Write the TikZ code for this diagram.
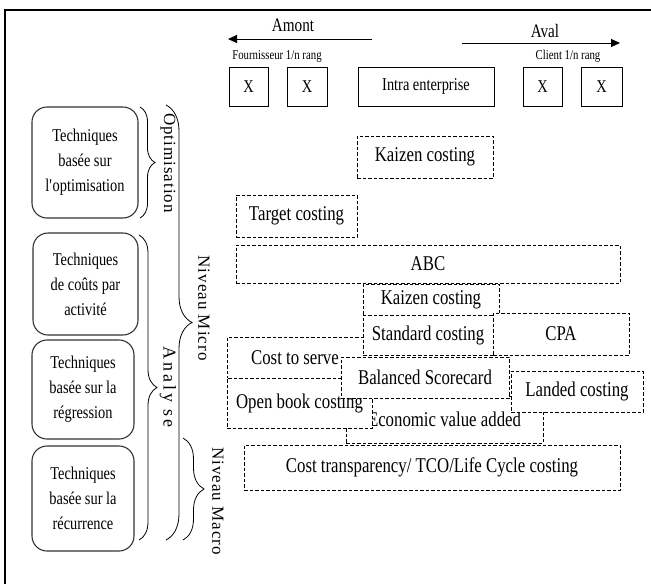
\documentclass[tikz,border=0pt]{standalone}
\usepackage{fontspec}
\setmainfont{Liberation Serif}[FakeStretch=0.8]
\newfontfamily\vertfont{Liberation Serif}[LetterSpace=6]
\newfontfamily\widevertfont{Liberation Serif}[LetterSpace=16]
\usetikzlibrary{decorations.pathreplacing,arrows.meta}

\begin{document}
\begin{tikzpicture}[x=1pt,y=-1pt,
  dbox/.style={draw, line width=0.9pt, dash pattern=on 3.5pt off 2pt, fill=white,
    inner sep=0pt, font=\fontsize{21}{25}\selectfont},
  sbox/.style={draw, line width=1pt, inner sep=0pt, font=\fontsize{18}{22}\selectfont},
  rbox/.style={draw=black!80, line width=1.1pt, rounded corners=15pt, inner sep=0pt,
    align=center, font=\fontsize{18}{25}\selectfont},
  vlabel/.style={rotate=-90, inner sep=0pt, font=\vertfont\fontsize{17}{20}\selectfont},
  bracedeco/.style={decorate, decoration={brace, amplitude=#1}, line width=0.8pt},
  flow/.style={-{Triangle[length=9pt,width=8pt]}, line width=1pt},
  toplabel/.style={inner sep=0pt, font=\fontsize{19}{22}\selectfont},
  smalllabel/.style={inner sep=0pt, font=\fontsize{13.5}{16}\selectfont}
]
\useasboundingbox (0,0) rectangle (651,584);

% outer frame
\coordinate (frBL) at (5,590);
\coordinate (frTL) at (5,10);
\coordinate (frTR) at (660,10);
\draw[line width=2pt] (frBL) -- (frTL) -- (frTR);

% supply chain direction
\node[toplabel] (amont) at (293,25) {Amont};
\coordinate (amS) at (372,39);
\coordinate (amE) at (228,39);
\draw[flow] (amS) -- (amE);
\node[toplabel] (aval) at (545,31) {Aval};
\coordinate (avS) at (462,43);
\coordinate (avE) at (620,43);
\draw[flow] (avS) -- (avE);
\node[smalllabel] (fourn) at (277,56) {Fournisseur 1/n rang};
\node[smalllabel] (client) at (568,56) {Client 1/n rang};

% tiers
\node[sbox, minimum width=39pt, minimum height=39pt] (x1) at (248.5,86.5) {X};
\node[sbox, minimum width=40pt, minimum height=39pt] (x2) at (307,86.5) {X};
\node[sbox, minimum width=136pt, minimum height=39pt] (intra) at (426,86.5) {Intra enterprise};
\node[sbox, minimum width=39pt, minimum height=39pt] (x3) at (542.5,86.5) {X};
\node[sbox, minimum width=41pt, minimum height=39pt] (x4) at (601.5,86.5) {X};

% technique families
\node[rbox, minimum width=106pt, minimum height=111pt] (opt) at (85,162.5)
  {Techniques\\basée sur\\l\textquotesingle optimisation};
\node[rbox, minimum width=105pt, minimum height=102pt] (act) at (85.5,284)
  {Techniques\\de coûts par\\activité};
\node[rbox, minimum width=102pt, minimum height=99pt] (reg) at (83,389.5)
  {Techniques\\basée sur la\\régression};
\node[rbox, minimum width=102pt, minimum height=105pt] (rec) at (83,498.5)
  {Techniques\\basée sur la\\récurrence};

% braces and their labels
\coordinate (brOa) at (140,107);
\coordinate (brOb) at (140,218);
\draw[bracedeco=15] (brOa) -- (brOb);
\node[vlabel] (lopt) at (168,163) {Optimisation};

\coordinate (brAa) at (139,235);
\coordinate (brAb) at (139,540);
\draw[bracedeco=18] (brAa) -- (brAb);
\node[vlabel, font=\widevertfont\fontsize{18}{20}\selectfont] (lana) at (168,387) {Analy se};

\coordinate (brMa) at (166,105);
\coordinate (brMb) at (166,540);
\draw[bracedeco=26] (brMa) -- (brMb);
\node[vlabel] (lmicro) at (204,308) {Niveau Micro};

\coordinate (brXa) at (183,438);
\coordinate (brXb) at (183,540);
\draw[bracedeco=21] (brXa) -- (brXb);
\node[vlabel] (lmacro) at (218,501) {Niveau Macro};

% costing methods
\node[dbox, minimum width=136pt, minimum height=42pt] (kaizenA) at (425,157) {Kaizen costing};
\node[dbox, minimum width=121pt, minimum height=42pt] (target) at (296.5,216) {Target costing};
\node[dbox, minimum width=384pt, minimum height=38pt] (abc) at (428,264) {ABC};
\node[dbox, minimum width=197pt, minimum height=47pt] (eva) at (444.5,419.5) {Economic value added};
\node[dbox, minimum width=136pt, minimum height=41pt] (serve) at (295,357.5) {Cost to serve};
\node[dbox, minimum width=145pt, minimum height=50pt] (openbook) at (299.5,403) {Open book costing};
\node[dbox, minimum width=168pt, minimum height=41pt] (bsc) at (425,377.5) {Balanced Scorecard};
\node[dbox, minimum width=132pt, minimum height=41pt] (landed) at (577,391.5) {Landed costing};
\node[dbox, minimum width=136pt, minimum height=31pt] (kaizenB) at (431,299.5) {Kaizen costing};
\node[dbox, minimum width=130pt, minimum height=40pt] (standard) at (428,335) {Standard costing};
\node[dbox, minimum width=136pt, minimum height=42pt] (cpa) at (561,334) {CPA};
\node[dbox, minimum width=376pt, minimum height=45pt] (tco) at (432,467.5) {Cost transparency/ TCO/Life Cycle costing};
\end{tikzpicture}
\end{document}
